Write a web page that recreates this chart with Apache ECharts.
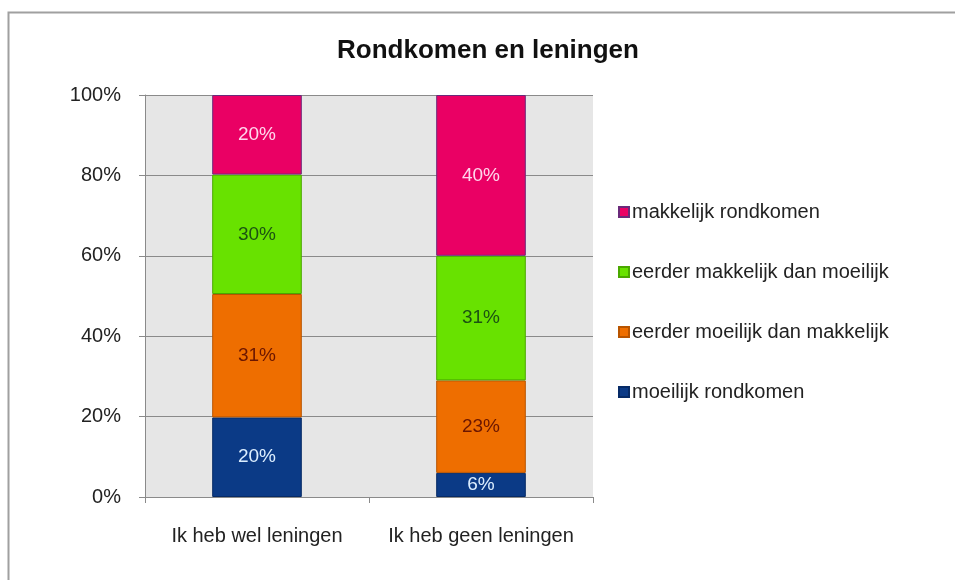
<!DOCTYPE html>
<html>
<head>
<meta charset="utf-8">
<script src="https://cdn.jsdelivr.net/npm/echarts@6/dist/echarts.min.js"></script>
<style>
  html, body { margin: 0; padding: 0; background: #fff; }
  #chart { width: 955px; height: 580px; }
</style>
</head>
<body>
<div id="chart"></div>
<script>
// Categories on the x axis
const categories = ['Ik heb wel leningen', 'Ik heb geen leningen'];

// Percentages per answer group (bottom of the stack first)
const moeilijk = [20, 6];
const eerderMoeilijk = [31, 23];
const eerderMakkelijk = [30, 31];
const makkelijk = [20, 40];

const seriesNames = ['moeilijk rondkomen', 'eerder moeilijk dan makkelijk',
                     'eerder makkelijk dan moeilijk', 'makkelijk rondkomen'];
const legendOrder = ['makkelijk rondkomen', 'eerder makkelijk dan moeilijk',
                     'eerder moeilijk dan makkelijk', 'moeilijk rondkomen'];
const yTicks = [0, 20, 40, 60, 80, 100];

const groups = [moeilijk, eerderMoeilijk, eerderMakkelijk, makkelijk];
const fills = ['#0B3A86', '#EE6E00', '#68E200', '#EA0064'];
const borders = ['#062a66', '#b85400', '#4aa800', '#6a2a7a'];
const labelColors = ['#dceeff', '#6a1600', '#1c5212', '#ffd6ec'];

// 100% stacked: each bar is scaled so its parts add up to 100
const totals = categories.map((_, i) => groups.reduce((s, g) => s + g[i], 0));

const FONT = '"Liberation Sans", Arial, sans-serif';

const series = groups.map((g, k) => ({
  name: seriesNames[k],
  type: 'bar',
  stack: 'total',
  barWidth: '40%',
  data: g.map((v, i) => ({ value: v / totals[i] * 100, raw: v })),
  itemStyle: { color: fills[k], borderColor: borders[k], borderWidth: 1 },
  label: {
    show: true,
    position: 'inside',
    color: labelColors[k],
    fontFamily: FONT,
    fontSize: 19,
    formatter: p => p.data.raw + '%'
  }
}));

const chart = echarts.init(document.getElementById('chart'), null, { renderer: 'canvas' });
chart.setOption({
  animation: false,
  backgroundColor: '#ffffff',
  title: {
    text: 'Rondkomen en leningen',
    left: 483,
    top: 33,
    textAlign: 'center',
    textStyle: { fontFamily: FONT, fontSize: 26, fontWeight: 'bold', color: '#111' }
  },
  graphic: [{
    type: 'rect',
    left: 6, top: 10,
    shape: { width: 1000, height: 620 },
    style: { fill: 'none', stroke: '#a0a0a0', lineWidth: 2 },
    silent: true, z: -10
  }],
  grid: {
    left: 145, top: 95, width: 448, height: 402,
    show: true, backgroundColor: '#E6E6E6', borderWidth: 0
  },
  legend: {
    orient: 'vertical',
    left: 613, top: 197,
    itemWidth: 10, itemHeight: 10,
    itemGap: 40,
    data: legendOrder.map(n => ({ name: n, icon: 'rect' })),
    textStyle: { fontFamily: FONT, fontSize: 20, color: '#222', padding: [0, 0, 0, -2] }
  },
  xAxis: {
    type: 'category',
    data: categories,
    axisLine: { show: true, lineStyle: { color: '#8a8a8a', width: 1 } },
    axisTick: { show: true, length: 6, lineStyle: { color: '#8a8a8a' } },
    axisLabel: { interval: 0, fontFamily: FONT, fontSize: 20, color: '#222', margin: 29 }
  },
  yAxis: {
    type: 'value',
    min: yTicks[0], max: yTicks[yTicks.length - 1], interval: 20,
    axisLine: { show: true, lineStyle: { color: '#8a8a8a', width: 1 } },
    axisTick: { show: true, length: 6, lineStyle: { color: '#8a8a8a' } },
    splitLine: { show: true, lineStyle: { color: '#8a8a8a', width: 1 } },
    axisLabel: { fontFamily: FONT, fontSize: 20, color: '#222', margin: 24,
                 formatter: '{value}%' }
  },
  series: series
});
</script>
</body>
</html>
